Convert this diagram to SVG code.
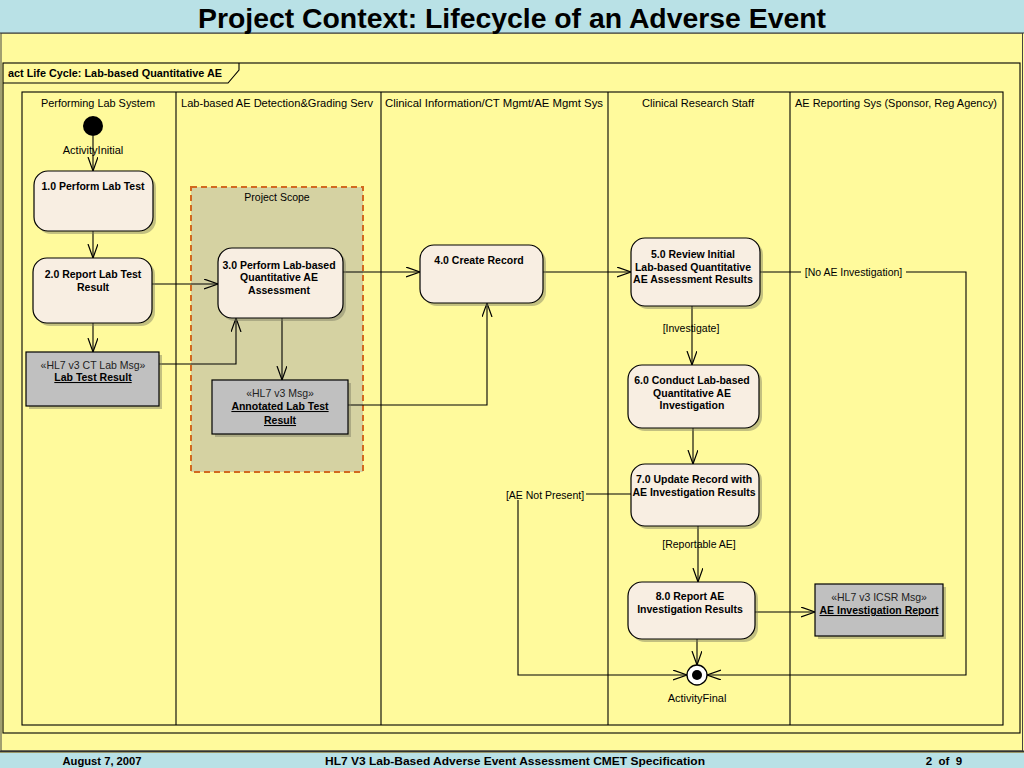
<svg xmlns="http://www.w3.org/2000/svg" width="1024" height="768" viewBox="0 0 1024 768">
<defs>
<style>
.t{font-family:"Liberation Sans",Arial,sans-serif;fill:#000}
.h{font-size:11px;text-anchor:middle}
.b{font-size:10.5px;font-weight:bold;text-anchor:middle}
.r{font-size:10.5px;text-anchor:middle}
.st{font-size:10.5px;text-anchor:middle;fill:#222}
.u{text-decoration:underline}
.nar{font-family:"Liberation Sans Narrow","Liberation Sans",Arial,sans-serif;font-weight:bold;fill:#000}
.act{fill:#f8eee2;stroke:#000;stroke-width:1.2}
.obj{fill:#c0c0c0;stroke:#000;stroke-width:1.2}
.sh{fill:#7a7a60;opacity:0.45}
.ln{fill:none;stroke:#000;stroke-width:1.1}
.c{fill:none;stroke:#000;stroke-width:1.1}
</style>
<marker id="arr" markerWidth="16" markerHeight="12" refX="14" refY="5" orient="auto" markerUnits="userSpaceOnUse">
<path d="M0,0 L14,5 L0,10" fill="none" stroke="#000" stroke-width="1.2"/>
</marker>
</defs>

<!-- slide background -->
<rect x="0" y="0" width="1024" height="768" fill="#fffa9c"/>
<rect x="1" y="33" width="1021.5" height="718" fill="#fffa9c" stroke="#444" stroke-width="1"/>
<!-- title bar -->
<rect x="0" y="0" width="1024" height="33" fill="#b9e1e6"/>
<line x1="0" y1="33" x2="1024" y2="33" stroke="#333" stroke-width="1.2"/>
<text class="nar" x="512" y="28" font-size="28" text-anchor="middle" textLength="628" lengthAdjust="spacingAndGlyphs">Project Context: Lifecycle of an Adverse Event</text>

<!-- footer -->
<rect x="0" y="753" width="1024" height="15" fill="#b9e1e6"/>
<line x1="0" y1="751.5" x2="1024" y2="751.5" stroke="#333" stroke-width="2"/>
<text class="nar" x="102" y="765" font-size="11.5" text-anchor="middle" textLength="79" lengthAdjust="spacingAndGlyphs">August 7, 2007</text>
<text class="nar" x="515" y="765" font-size="11.5" text-anchor="middle" textLength="380" lengthAdjust="spacingAndGlyphs">HL7 V3 Lab-Based Adverse Event Assessment CMET Specification</text>
<text class="nar" x="944" y="765" font-size="11.5" text-anchor="middle" xml:space="preserve">2  of  9</text>

<!-- frame -->
<g id="frame">
<rect x="3" y="63" width="1017" height="670" fill="#fffa9c" stroke="#000" stroke-width="1.1"/>
<path d="M3,83 H228 L239,70 V63" fill="none" stroke="#000" stroke-width="1.1"/>
<text class="t" x="8" y="77" font-size="10" font-weight="bold" textLength="214" lengthAdjust="spacingAndGlyphs">act Life Cycle: Lab-based Quantitative AE</text>
</g>

<!-- swimlanes -->
<g id="lanes">
<rect x="22" y="92" width="981" height="633" fill="#fffa9c" stroke="#000" stroke-width="1.1"/>
<line class="ln" x1="176" y1="92" x2="176" y2="725"/>
<line class="ln" x1="381" y1="92" x2="381" y2="725"/>
<line class="ln" x1="608" y1="92" x2="608" y2="725"/>
<line class="ln" x1="790" y1="92" x2="790" y2="725"/>
<text class="t h" x="98" y="107" textLength="114" lengthAdjust="spacingAndGlyphs">Performing Lab System</text>
<text class="t h" x="277" y="107" textLength="192" lengthAdjust="spacingAndGlyphs">Lab-based AE Detection&amp;Grading Serv</text>
<text class="t h" x="494" y="107" textLength="218" lengthAdjust="spacingAndGlyphs">Clinical Information/CT Mgmt/AE Mgmt Sys</text>
<text class="t h" x="698" y="107" textLength="112" lengthAdjust="spacingAndGlyphs">Clinical Research Staff</text>
<text class="t h" x="896" y="107" textLength="202" lengthAdjust="spacingAndGlyphs">AE Reporting Sys (Sponsor, Reg Agency)</text>
</g>

<!-- project scope -->
<g id="projectScope">
<rect x="191" y="187" width="172" height="285" fill="#d5d2a2" stroke="#d2691e" stroke-width="2" stroke-dasharray="6,4"/>
<text class="t r" x="277" y="201">Project Scope</text>
</g>

<!-- connectors -->
<g id="connectors">
<path class="c" d="M93,136 V171" marker-end="url(#arr)"/>
<path class="c" d="M93,231 V258" marker-end="url(#arr)"/>
<path class="c" d="M93,323 V352" marker-end="url(#arr)"/>
<path class="c" d="M152,284 H218" marker-end="url(#arr)"/>
<path class="c" d="M159,364 H236 V318" marker-end="url(#arr)"/>
<path class="c" d="M282,318 V380" marker-end="url(#arr)"/>
<path class="c" d="M343,272 H420" marker-end="url(#arr)"/>
<path class="c" d="M348,405 H487 V303" marker-end="url(#arr)"/>
<path class="c" d="M543,272 H631" marker-end="url(#arr)"/>
<path class="c" d="M692,306 V365" marker-end="url(#arr)"/>
<path class="c" d="M693,428 V464" marker-end="url(#arr)"/>
<path class="c" d="M698,526 V582" marker-end="url(#arr)"/>
<path class="c" d="M755,612 H815" marker-end="url(#arr)"/>
<path class="c" d="M697,639 V665" marker-end="url(#arr)"/>
<path class="c" d="M631,494 H586"/>
<path class="c" d="M518,500 V675 H687" marker-end="url(#arr)"/>
<path class="c" d="M760,272 H801"/>
<path class="c" d="M906,272 H966 V675 H707" marker-end="url(#arr)"/>
<text class="t r" x="691" y="332">[Investigate]</text>
<text class="t r" x="545" y="499">[AE Not Present]</text>
<text class="t r" x="699" y="548">[Reportable AE]</text>
<text class="t r" x="853.5" y="276">[No AE Investigation]</text>
</g>

<!-- initial node -->
<g id="initial">
<circle cx="93" cy="126" r="10" fill="#000"/>
<text class="t h" x="93" y="154">ActivityInitial</text>
</g>

<!-- activities -->
<g id="a1">
<rect class="sh" x="37" y="174" width="119" height="60" rx="14"/>
<rect class="act" x="34" y="171" width="119" height="60" rx="14"/>
<text class="t b" x="93" y="190">1.0 Perform Lab Test</text>
</g>
<g id="a2">
<rect class="sh" x="36" y="261" width="119" height="65" rx="14"/>
<rect class="act" x="33" y="258" width="119" height="65" rx="14"/>
<text class="t b" x="93" y="278">2.0 Report Lab Test</text>
<text class="t b" x="93" y="291">Result</text>
</g>
<g id="a3">
<rect class="sh" x="221" y="251" width="125" height="70" rx="14"/>
<rect class="act" x="218" y="248" width="125" height="70" rx="14"/>
<text class="t b" x="279" y="269">3.0 Perform Lab-based</text>
<text class="t b" x="279" y="281">Quantitative AE</text>
<text class="t b" x="279" y="294">Assessment</text>
</g>
<g id="a4">
<rect class="sh" x="423" y="248" width="123" height="58" rx="14"/>
<rect class="act" x="420" y="245" width="123" height="58" rx="14"/>
<text class="t b" x="479" y="264">4.0 Create Record</text>
</g>
<g id="a5">
<rect class="sh" x="634" y="241" width="129" height="68" rx="14"/>
<rect class="act" x="631" y="238" width="129" height="68" rx="14"/>
<text class="t b" x="693" y="258">5.0 Review Initial</text>
<text class="t b" x="693" y="271">Lab-based Quantitative</text>
<text class="t b" x="693" y="283">AE Assessment Results</text>
</g>
<g id="a6">
<rect class="sh" x="631" y="368" width="131" height="63" rx="14"/>
<rect class="act" x="628" y="365" width="131" height="63" rx="14"/>
<text class="t b" x="692" y="384">6.0 Conduct Lab-based</text>
<text class="t b" x="692" y="397">Quantitative AE</text>
<text class="t b" x="692" y="409">Investigation</text>
</g>
<g id="a7">
<rect class="sh" x="634" y="467" width="128" height="62" rx="14"/>
<rect class="act" x="631" y="464" width="128" height="62" rx="14"/>
<text class="t b" x="694" y="483">7.0 Update Record with</text>
<text class="t b" x="694" y="496">AE Investigation Results</text>
</g>
<g id="a8">
<rect class="sh" x="631" y="585" width="127" height="57" rx="14"/>
<rect class="act" x="628" y="582" width="127" height="57" rx="14"/>
<text class="t b" x="690" y="600">8.0 Report AE</text>
<text class="t b" x="690" y="613">Investigation Results</text>
</g>

<!-- objects -->
<g id="labTestResult">
<rect class="sh" x="29" y="355" width="133" height="54"/>
<rect class="obj" x="26" y="352" width="133" height="54"/>
<text class="t st" x="93" y="369">«HL7 v3 CT Lab Msg»</text>
<text class="t b u" x="93" y="381">Lab Test Result</text>
</g>
<g id="annotatedLabTestResult">
<rect class="sh" x="215" y="383" width="136" height="54"/>
<rect class="obj" x="212" y="380" width="136" height="54"/>
<text class="t st" x="280" y="397">«HL7 v3 Msg»</text>
<text class="t b u" x="280" y="410">Annotated Lab Test </text>
<text class="t b u" x="280" y="424">Result</text>
</g>
<g id="aeInvestigationReport">
<rect class="sh" x="818" y="587" width="128" height="52"/>
<rect class="obj" x="815" y="584" width="128" height="52"/>
<text class="t st" x="879" y="601">«HL7 v3 ICSR Msg»</text>
<text class="t b u" x="879" y="614">AE Investigation Report</text>
</g>

<!-- final node -->
<g id="final">
<circle cx="697" cy="675" r="10" fill="#fff" stroke="#000" stroke-width="1.3"/>
<circle cx="697" cy="675" r="5" fill="#000"/>
<text class="t h" x="697" y="702">ActivityFinal</text>
</g>
</svg>
